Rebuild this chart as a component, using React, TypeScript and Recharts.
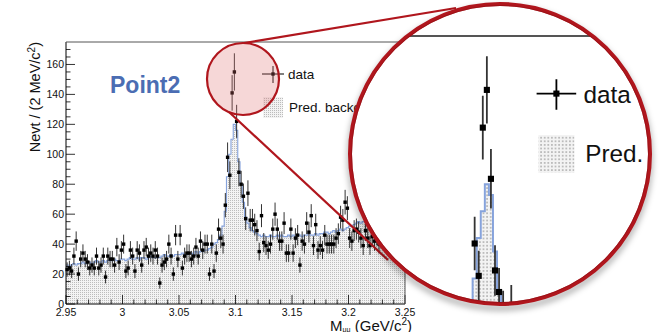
import React from "react";
import { Area, ComposedChart, ErrorBar, Scatter, XAxis, YAxis } from "recharts";

/* ── Layout ─────────────────────────────────────────── */

const W = 669;
const H = 332;
const FONT = '"Liberation Sans", Arial, Helvetica, sans-serif';
const PLOT = { left: 66, right: 405, top: 42, bottom: 304 };

/* ── Data ───────────────────────────────────────────── */

const X_MIN = 2.95;
const X_MAX = 3.25;
const BIN = 0.002; // 2 MeV bins

const X_TICKS = [
  2.95, 2.96, 2.97, 2.98, 2.99, 3, 3.01, 3.02, 3.03, 3.04, 3.05, 3.06, 3.07, 3.08, 3.09, 3.1,
  3.11, 3.12, 3.13, 3.14, 3.15, 3.16, 3.17, 3.18, 3.19, 3.2, 3.21, 3.22, 3.23, 3.24, 3.25,
];
const X_LABELS = [2.95, 3, 3.05, 3.1, 3.15, 3.2, 3.25];
const Y_TICKS = [
  0, 5, 10, 15, 20, 25, 30, 35, 40, 45, 50, 55, 60, 65, 70, 75, 80, 85, 90, 95, 100, 105, 110,
  115, 120, 125, 130, 135, 140, 145, 150, 155, 160, 165, 170,
];
const Y_LABELS = [0, 20, 40, 60, 80, 100, 120, 140, 160];

// observed events per bin
const COUNTS = [
  23, 24, 22, 32, 42, 20, 30, 34, 30, 28,
  24, 26, 24, 32, 24, 26, 32, 18, 32, 30,
  30, 26, 38, 28, 36, 40, 22, 24, 36, 32,
  22, 36, 34, 26, 36, 38, 32, 34, 32, 36,
  32, 14, 26, 28, 30, 40, 32, 20, 46, 30,
  46, 24, 32, 34, 34, 30, 32, 38, 32, 42,
  36, 40, 40, 20, 40, 22, 34, 50, 44, 40,
  66, 98, 86, 141, 155, 122, 88, 80, 72, 57,
  74, 56, 56, 53, 49, 35, 59, 41, 39, 36,
  40, 50, 60, 50, 42, 42, 54, 34, 34, 50,
  34, 44, 46, 26, 42, 40, 54, 48, 59, 39,
  53, 36, 39, 36, 46, 40, 40, 40, 40, 44,
  47, 58, 56, 68, 64, 44, 42, 49, 50, 48,
  44, 39, 49, 44, 39, 45, 42, 46, 40, 44,
  48, 41, 45, 39, 47, 43, 40, 46, 44, 42,
];

// predicted background per bin
const BKG = [
  26, 25, 26, 27, 26, 27, 27, 28, 27, 28,
  28, 27, 28, 29, 28, 28, 29, 28, 29, 29,
  29, 30, 29, 29, 30, 30, 29, 30, 31, 30,
  30, 31, 30, 31, 31, 30, 31, 32, 31, 31,
  32, 31, 32, 33, 32, 32, 33, 32, 33, 33,
  33, 34, 33, 33, 34, 34, 33, 35, 34, 35,
  35, 36, 36, 37, 38, 40, 41, 43, 46, 52,
  62, 85, 100, 110, 120, 116, 95, 80, 68, 58,
  54, 51, 49, 48, 47, 46, 45, 46, 45, 45,
  46, 45, 45, 46, 45, 46, 45, 45, 46, 45,
  46, 45, 46, 46, 45, 46, 46, 47, 46, 46,
  47, 46, 47, 47, 48, 48, 47, 48, 49, 48,
  49, 50, 49, 50, 51, 52, 52, 53, 54, 55,
  54, 55, 55, 56, 55, 56, 55, 56, 56, 55,
  56, 57, 56, 56, 57, 56, 57, 56, 56, 57,
];

// points at bin centres, Poisson error bars
const dataRows = COUNTS.map((n, i) => ({ x: X_MIN + BIN * (i + 0.5), n, err: Math.sqrt(n) }));
// step histogram: low edge of each bin + closing edge
const bkgRows = [
  ...BKG.map((b, i) => ({ x: X_MIN + BIN * i, bkg: b })),
  { x: X_MAX, bkg: BKG[BKG.length - 1] },
];

/* ── Colors ─────────────────────────────────────────── */

const BLUE_LINE = "#86a3dc";
const LENS_RED = "#b0161d";
const LABEL_BLUE = "#4b6db3";

/* ── Ticks (ROOT style, drawn inside the frame) ─────── */

function XTick(props: any) {
  const { x, payload } = props;
  const y = PLOT.bottom;
  const v = payload.value as number;
  const major = X_LABELS.some((m) => Math.abs(m - v) < 1e-6);
  return (
    <g>
      <line x1={x} y1={y} x2={x} y2={y - (major ? 9 : 4.5)} stroke="#000" strokeWidth={0.8} />
      {major && (
        <text x={x} y={y + 12} textAnchor="middle" fontSize={10.5} fontFamily={FONT} fill="#111">
          {String(v)}
        </text>
      )}
    </g>
  );
}

function YTick(props: any) {
  const { y, payload } = props;
  const x = PLOT.left;
  const v = payload.value as number;
  const major = Y_LABELS.includes(v);
  return (
    <g>
      <line x1={x} y1={y} x2={x + (major ? 9 : 4.5)} y2={y} stroke="#000" strokeWidth={0.8} />
      {major && (
        <text x={x - 2} y={y + 3.8} textAnchor="end" fontSize={10.5} fontFamily={FONT} fill="#111">
          {v}
        </text>
      )}
    </g>
  );
}

function Marker(props: any) {
  const { cx, cy } = props;
  if (cx == null || cy == null) return null;
  return <rect x={cx - 1.7} y={cy - 1.7} width={3.4} height={3.4} fill="#000" />;
}

/* ── One copy of the plot (drawn twice: normal + magnified) ── */

function ChartBody({ showLabel }: { showLabel: boolean }) {
  return (
    <div style={{ position: "absolute", left: 0, top: 0, width: W, height: H, background: "#fff" }}>
      <ComposedChart
        width={W}
        height={H}
        data={bkgRows}
        margin={{ top: PLOT.top, right: W - PLOT.right, bottom: H - PLOT.bottom - 1, left: PLOT.left - 1 }}
      >
        <defs>
          <pattern id="dots" width="2" height="2" patternUnits="userSpaceOnUse">
            <rect width="2" height="2" fill="#f3f3f3" />
            <rect width="1" height="1" fill="#bcbcbc" />
          </pattern>
        </defs>
        <XAxis
          type="number"
          dataKey="x"
          domain={[X_MIN, X_MAX]}
          ticks={X_TICKS}
          interval={0}
          height={1}
          tickSize={0}
          tickMargin={0}
          tickLine={false}
          axisLine={{ stroke: "#000", strokeWidth: 1 }}
          tick={(p: any) => <XTick {...p} />}
        />
        <YAxis
          type="number"
          domain={[0, 175]}
          ticks={Y_TICKS}
          interval={0}
          width={1}
          tickSize={0}
          tickMargin={0}
          tickLine={false}
          axisLine={{ stroke: "#000", strokeWidth: 1 }}
          tick={(p: any) => <YTick {...p} />}
        />
        <Area
          type="stepAfter"
          dataKey="bkg"
          stroke={BLUE_LINE}
          strokeWidth={1.1}
          fill="url(#dots)"
          fillOpacity={1}
          isAnimationActive={false}
        />
        <Scatter data={dataRows} dataKey="n" shape={<Marker />} isAnimationActive={false}>
          <ErrorBar dataKey="err" direction="y" width={0} stroke="#333" strokeWidth={1} />
        </Scatter>
      </ComposedChart>

      {/* frame, titles, legend */}
      <svg
        width={W}
        height={H}
        style={{ position: "absolute", left: 0, top: 0, pointerEvents: "none" }}
        fontFamily={FONT}
      >
        <line x1={PLOT.left} y1={PLOT.top} x2={PLOT.right} y2={PLOT.top} stroke="#555" strokeWidth={1} />
        <line x1={PLOT.right} y1={PLOT.top} x2={PLOT.right} y2={PLOT.bottom} stroke="#555" strokeWidth={1} />

        {showLabel && (
          <text x={110} y={93} fontSize={23} fontWeight="bold" fill={LABEL_BLUE}>
            Point2
          </text>
        )}

        {/* y title */}
        <text transform={`translate(40, ${PLOT.top}) rotate(-90)`} textAnchor="end" fontSize={14.5} fill="#111">
          Nevt / (2 MeV/c<tspan dy={-5.5} fontSize={10}>2</tspan>
          <tspan dy={5.5}>)</tspan>
        </text>

        {/* x title */}
        <text x={412} y={331} textAnchor="end" fontSize={15} fill="#111">
          M<tspan dy={1} fontSize={7}>μμ</tspan>
          <tspan dy={-1}> (GeV/c</tspan>
          <tspan dy={-6} fontSize={10}>2</tspan>
          <tspan dy={6}>)</tspan>
        </text>

        {/* legend */}
        <line x1={262} y1={74} x2={284} y2={74} stroke="#000" strokeWidth={1} />
        <line x1={273} y1={66} x2={273} y2={83} stroke="#000" strokeWidth={1} />
        <rect x={271.3} y={72.3} width={3.4} height={3.4} fill="#000" />
        <text x={288} y={79} fontSize={13.5} fill="#111">
          data
        </text>
        <rect x={263} y={97} width={20} height={21} fill="url(#dots)" />
        <text x={289} y={112} fontSize={13.5} fill="#111">
          Pred. background
        </text>
      </svg>
    </div>
  );
}

/* ── Magnifier ──────────────────────────────────────── */

const LENS = { cx: 500, cy: 154, r: 150 };
const SMALL = { cx: 243, cy: 79, r: 36 };
const ZOOM = 1.8;
const ZOOM_DX = 65;
const ZOOM_DY = -39.6;

const lensPath = `path('M ${LENS.cx - LENS.r + 1} ${LENS.cy} A ${LENS.r - 1} ${LENS.r - 1} 0 1 0 ${
  LENS.cx + LENS.r - 1
} ${LENS.cy} A ${LENS.r - 1} ${LENS.r - 1} 0 1 0 ${LENS.cx - LENS.r + 1} ${LENS.cy} Z')`;

export default function App() {
  return (
    <div
      style={{
        position: "absolute",
        left: 0,
        top: 0,
        width: W,
        height: H,
        overflow: "hidden",
        background: "#fff",
        fontFamily: FONT,
      }}
    >
      <ChartBody showLabel />

      {/* small lens tint, connectors, lens shadow */}
      <svg width={W} height={H} style={{ position: "absolute", left: 0, top: 0 }}>
        <circle cx={SMALL.cx} cy={SMALL.cy} r={SMALL.r} fill="rgba(222,110,110,0.28)" />
        <line x1={229} y1={112} x2={388} y2={260} stroke={LENS_RED} strokeWidth={2.2} />
        <line x1={244} y1={43} x2={456} y2={8} stroke={LENS_RED} strokeWidth={2.2} />
        <defs>
          <filter id="lensShadow" x="-20%" y="-20%" width="140%" height="140%">
            <feGaussianBlur stdDeviation="3" />
          </filter>
        </defs>
        <circle
          cx={LENS.cx}
          cy={LENS.cy + 4}
          r={LENS.r}
          fill="none"
          stroke="rgba(0,0,0,0.35)"
          strokeWidth={5}
          filter="url(#lensShadow)"
        />
      </svg>

      {/* magnified copy */}
      <div style={{ position: "absolute", left: 0, top: 0, width: W, height: H, clipPath: lensPath }}>
        <div
          style={{
            position: "absolute",
            left: 0,
            top: 0,
            width: W,
            height: H,
            transformOrigin: "0 0",
            transform: `translate(${ZOOM_DX}px, ${ZOOM_DY}px) scale(${ZOOM})`,
          }}
        >
          <ChartBody showLabel={false} />
        </div>
      </div>

      {/* lens borders */}
      <svg width={W} height={H} style={{ position: "absolute", left: 0, top: 0 }}>
        <circle cx={SMALL.cx} cy={SMALL.cy} r={SMALL.r} fill="none" stroke={LENS_RED} strokeWidth={2.2} />
        <circle cx={LENS.cx} cy={LENS.cy} r={LENS.r} fill="none" stroke={LENS_RED} strokeWidth={4} />
        <circle cx={LENS.cx} cy={LENS.cy} r={LENS.r - 1.5} fill="none" stroke="#8e0d13" strokeWidth={1} opacity={0.6} />
      </svg>
    </div>
  );
}
